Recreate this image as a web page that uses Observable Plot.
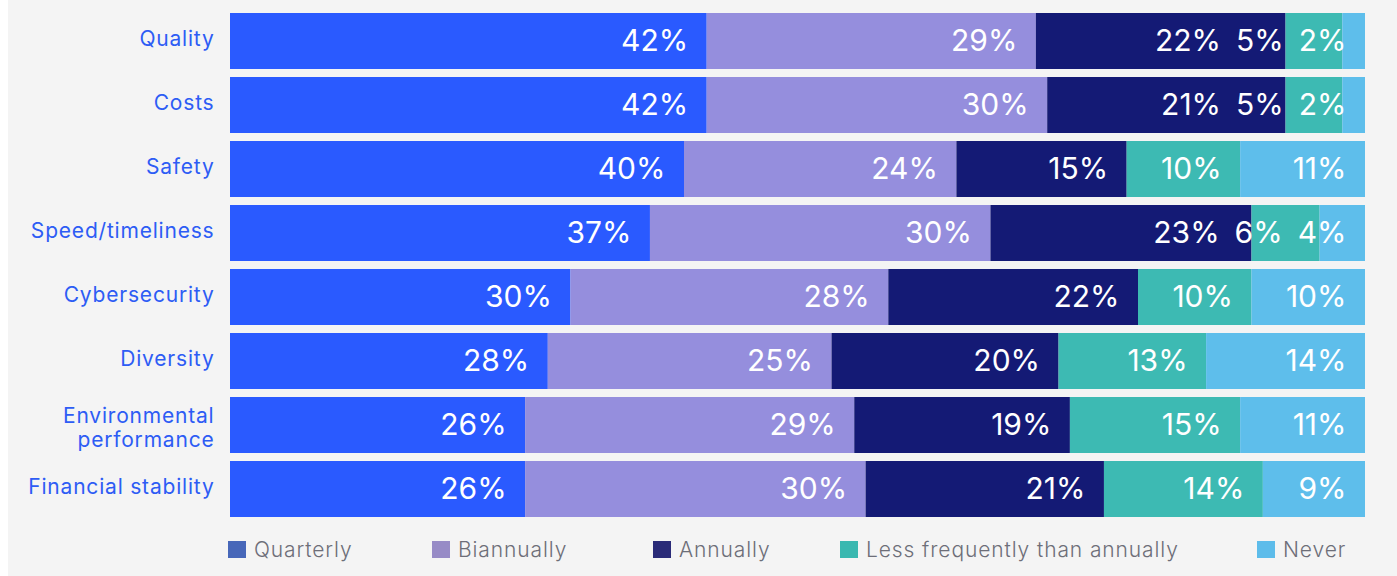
<!DOCTYPE html>
<html>
<head>
<meta charset="utf-8">
<script src="https://cdn.jsdelivr.net/npm/d3@7"></script>
<script src="https://cdn.jsdelivr.net/npm/@observablehq/plot@0.6"></script>
<style>
  html, body { margin: 0; padding: 0; background: #ffffff; }
  #panel { position: absolute; left: 8px; top: 0; width: 1389px; height: 576px; background: #f4f4f4; font-family: Inter, "Open Sans", sans-serif; overflow: hidden; }
  #chart { position: absolute; left: 0; top: 0; }
  #legend { position: absolute; left: 0; top: 538px; width: 100%; height: 22px; }
  .item { position: absolute; top: 0; height: 22px; display: flex; align-items: center; font-size: 21px; letter-spacing: 0.9px; color: #6d6e78; font-weight: 300; white-space: nowrap; }
  .sw { width: 18px; height: 17px; margin-right: 8px; flex: none; }
  g[aria-label="y-axis tick label"] text { letter-spacing: 0.8px; }
</style>
</head>
<body>
<div id="panel">
  <div id="chart"></div>
  <div id="legend"></div>
</div>
<script>
// ---- data ----
const categories = ["Quality", "Costs", "Safety", "Speed/timeliness", "Cybersecurity", "Diversity", "Environmental performance", "Financial stability"];
const categoryLabels = ["Quality", "Costs", "Safety", "Speed/timeliness", "Cybersecurity", "Diversity", "Environmental\nperformance", "Financial stability"];
const series = ["Quarterly", "Biannually", "Annually", "Less frequently than annually", "Never"];
const quarterly      = [42, 42, 40, 37, 30, 28, 26, 26];
const biannually     = [29, 30, 24, 30, 28, 25, 29, 30];
const annually       = [22, 21, 15, 23, 22, 20, 19, 21];
const lessFrequently = [ 5,  5, 10,  6, 10, 13, 15, 14];
const never          = [ 2,  2, 11,  4, 10, 14, 11,  9];
const barColors    = ["#2a5aff", "#958edd", "#141a75", "#3dbab3", "#5ebeeb"];
const legendColors = ["#4767b9", "#978bc6", "#2a2b78", "#3ab8b0", "#5dbcea"];

// ---- layout ----
const W = 1389, H = 530;
const mLeft = 222, mRight = 32;
const plotW = W - mLeft - mRight;
const unit = 100 / plotW;           // data units per pixel
const labelFont = "30px Inter, 'Open Sans', sans-serif";
const labelPad = 19, labelGap = 15;

const valuesBySeries = [quarterly, biannually, annually, lessFrequently, never];
const rows = [];
categories.forEach((c, i) => {
  series.forEach((s, j) => rows.push({category: c, series: s, value: valuesBySeries[j][i]}));
});

// label placement: right-aligned inside each segment, pushed left to avoid overlaps
const ctx = document.createElement("canvas").getContext("2d");
ctx.font = labelFont;
const labels = [];
categories.forEach((c, i) => {
  const vals = valuesBySeries.map(v => v[i]);
  const ends = d3.cumsum(vals);
  let limit = Infinity;
  for (let j = vals.length - 1; j >= 0; j--) {
    const text = vals[j] + "%";
    const right = Math.min(ends[j] - labelPad * unit, limit);
    const w = ctx.measureText(text).width * unit;
    limit = right - w - labelGap * unit;
    labels.push({category: c, xr: right, text});
  }
});

const singleLine = categories.filter((c, i) => !categoryLabels[i].includes("\n"));
const multiLine = categories.filter((c, i) => categoryLabels[i].includes("\n"));
const axisOpts = {
  anchor: "left",
  tickSize: 0,
  tickPadding: 16,
  fontSize: 21,
  color: "#2d5cf5",
  lineHeight: 1.15,
  label: null,
  tickFormat: d => categoryLabels[categories.indexOf(d)]
};

const chart = Plot.plot({
  width: W,
  height: H,
  marginLeft: mLeft,
  marginRight: mRight,
  marginTop: 5,
  marginBottom: 5,
  style: {background: "transparent", fontFamily: "Inter, 'Open Sans', sans-serif"},
  x: {domain: [0, 100], axis: null},
  y: {domain: categories, padding: 0.125, axis: null},
  color: {domain: series, range: barColors},
  marks: [
    Plot.barX(rows, {x: "value", y: "category", fill: "series"}),
    Plot.text(labels, {x: "xr", y: "category", text: "text", textAnchor: "end", fill: "white", fontSize: 30}),
    Plot.axisY(singleLine, {...axisOpts, dy: -3}),
    Plot.axisY(multiLine, {...axisOpts, dy: 2})
  ]
});
document.getElementById("chart").appendChild(chart);

// legend
const legendLefts = [220, 424, 645, 832, 1249];
const legend = document.getElementById("legend");
series.forEach((s, j) => {
  const it = document.createElement("div");
  it.className = "item";
  it.style.left = legendLefts[j] + "px";
  const sw = document.createElement("div");
  sw.className = "sw";
  sw.style.background = legendColors[j];
  const tx = document.createElement("span");
  tx.textContent = s;
  it.appendChild(sw);
  it.appendChild(tx);
  legend.appendChild(it);
});
</script>
</body>
</html>
